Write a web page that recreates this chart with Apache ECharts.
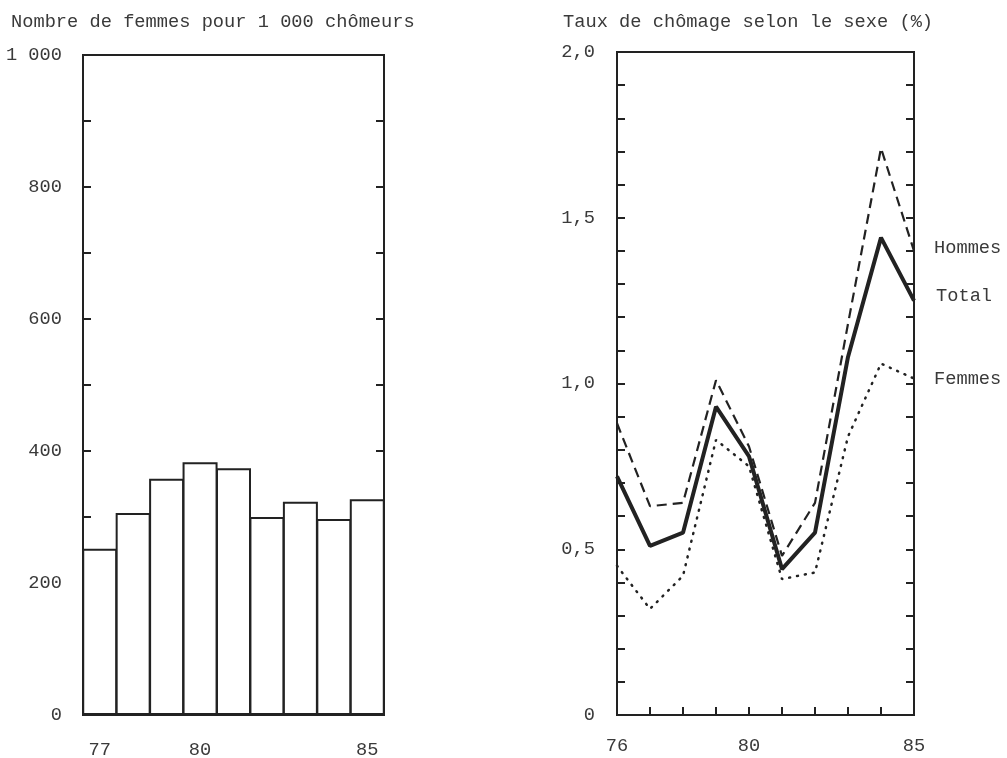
<!DOCTYPE html>
<html>
<head>
<meta charset="utf-8">
<script src="https://cdn.jsdelivr.net/npm/echarts@6/dist/echarts.min.js"></script>
<style>
  html, body { margin: 0; padding: 0; background: #fff; }
  #chart { width: 1007px; height: 758px; }
</style>
</head>
<body>
<div id="chart"></div>
<script>
// femmes pour 1 000 chômeurs
const barYears = ['77', '78', '79', '80', '81', '82', '83', '84', '85'];
const femmesPour1000 = [252, 306, 358, 383, 374, 300, 323, 297, 327];

// taux de chômage (%)
const lineYears = ['76', '77', '78', '79', '80', '81', '82', '83', '84', '85'];
const hommes = [0.88, 0.63, 0.64, 1.01, 0.81, 0.48, 0.64, 1.18, 1.71, 1.40];
const total  = [0.72, 0.51, 0.55, 0.93, 0.78, 0.44, 0.55, 1.08, 1.44, 1.25];
const femmes = [0.45, 0.32, 0.42, 0.83, 0.75, 0.41, 0.43, 0.84, 1.06, 1.015];

const barLabels = ['77', '80', '85'];
const lineLabels = ['76', '80', '85'];

const ink = '#222';
const txt = '#3a3a3a';
const font = 'Liberation Mono';
const fs = 18.7;

const chart = echarts.init(document.getElementById('chart'));

function lbl(extra) {
  return Object.assign({ color: txt, fontFamily: font, fontSize: fs }, extra);
}

const tick = { show: true, inside: true, length: 8, lineStyle: { color: ink, width: 2 } };

chart.setOption({
  animation: false,
  backgroundColor: '#fff',
  title: [
    { text: 'Nombre de femmes pour 1 000 chômeurs', left: 6, top: 8,
      textStyle: lbl({ fontWeight: 'normal' }) },
    { text: 'Taux de chômage selon le sexe (%)', left: 558, top: 8,
      textStyle: lbl({ fontWeight: 'normal' }) }
  ],
  grid: [
    { left: 83, right: 623, top: 55, bottom: 43, outerBoundsMode: 'none',
      show: true, borderColor: ink, borderWidth: 2 },
    { left: 617, right: 93, top: 52, bottom: 43, outerBoundsMode: 'none',
      show: true, borderColor: ink, borderWidth: 2 }
  ],
  xAxis: [
    {
      gridIndex: 0, type: 'category', data: barYears, boundaryGap: true,
      axisLine: { lineStyle: { color: ink, width: 2 } },
      axisTick: { show: false },
      axisLabel: lbl({ margin: 26, interval: (i, v) => barLabels.includes(v) })
    },
    {
      gridIndex: 1, type: 'category', data: lineYears, boundaryGap: false,
      axisLine: { lineStyle: { color: ink, width: 2 } },
      axisTick: Object.assign({}, tick, { interval: 0 }),
      axisLabel: lbl({ margin: 22, interval: (i, v) => lineLabels.includes(v) })
    }
  ],
  yAxis: [
    {
      gridIndex: 0, type: 'value', min: 0, max: 1000, interval: 100, position: 'left',
      splitLine: { show: false },
      axisLine: { show: true, lineStyle: { color: ink, width: 2 } },
      axisTick: tick,
      axisLabel: lbl({ margin: 21, formatter: v => v % 200 ? '' : (v === 1000 ? '1 000' : String(v)) })
    },
    {
      gridIndex: 0, type: 'value', min: 0, max: 1000, interval: 100, position: 'right',
      splitLine: { show: false },
      axisLine: { show: true, lineStyle: { color: ink, width: 2 } },
      axisTick: tick,
      axisLabel: { show: false }
    },
    {
      gridIndex: 1, type: 'value', min: 0, max: 2, interval: 0.1, position: 'left',
      splitLine: { show: false },
      axisLine: { show: true, lineStyle: { color: ink, width: 2 } },
      axisTick: tick,
      axisLabel: lbl({
        margin: 22,
        formatter: v => {
          const t = Math.round(v * 10);
          if (t % 5) return '';
          return t === 0 ? '0' : (t / 10).toFixed(1).replace('.', ',');
        }
      })
    },
    {
      gridIndex: 1, type: 'value', min: 0, max: 2, interval: 0.1, position: 'right',
      splitLine: { show: false },
      axisLine: { show: true, lineStyle: { color: ink, width: 2 } },
      axisTick: tick,
      axisLabel: { show: false }
    }
  ],
  series: [
    {
      type: 'bar', xAxisIndex: 0, yAxisIndex: 0, data: femmesPour1000,
      barWidth: 35,
      itemStyle: { color: '#fff', borderColor: ink, borderWidth: 2 }
    },
    {
      name: 'Hommes', type: 'line', xAxisIndex: 1, yAxisIndex: 2, data: hommes,
      symbol: 'none',
      lineStyle: { color: ink, width: 2.2, type: [10, 6] },
      endLabel: { show: true, distance: 20, offset: [0, -3], formatter: 'Hommes', ...lbl() }
    },
    {
      name: 'Total', type: 'line', xAxisIndex: 1, yAxisIndex: 2, data: total,
      symbol: 'none',
      lineStyle: { color: ink, width: 4 },
      endLabel: { show: true, distance: 22, offset: [0, -5], formatter: 'Total', ...lbl() }
    },
    {
      name: 'Femmes', type: 'line', xAxisIndex: 1, yAxisIndex: 2, data: femmes,
      symbol: 'none',
      lineStyle: { color: ink, width: 2.5, type: [1, 7], cap: 'round' },
      endLabel: { show: true, distance: 20, offset: [0, 1], formatter: 'Femmes', ...lbl() }
    }
  ]
});
</script>
</body>
</html>
